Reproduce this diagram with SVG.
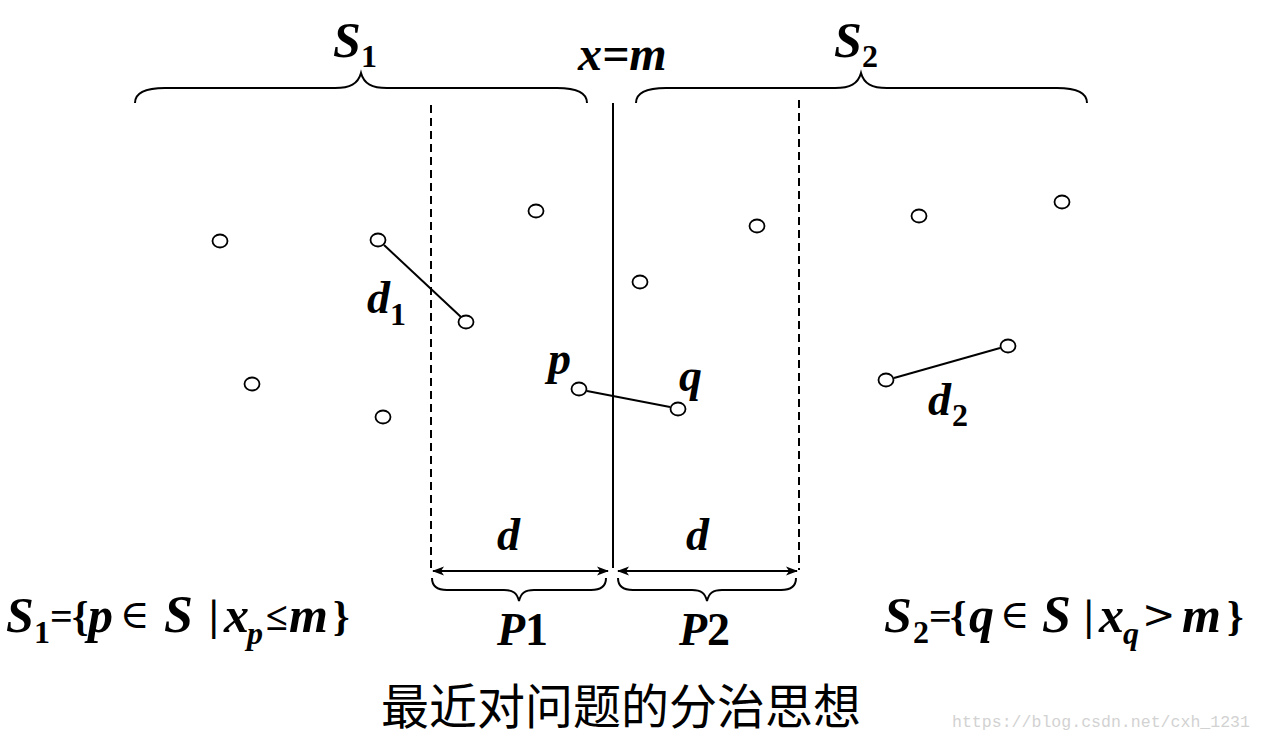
<svg xmlns="http://www.w3.org/2000/svg" width="1262" height="741" viewBox="0 0 1262 741">
<defs>
<style>
.pt{fill:#fff;stroke:#000;stroke-width:1.8}
.ln{stroke:#000;stroke-width:2;fill:none}
.dash{stroke:#000;stroke-width:2;stroke-dasharray:8 5;fill:none}
.br{stroke:#000;stroke-width:2;fill:none}
.m{font-family:"Liberation Serif","Times New Roman",serif;font-weight:bold;font-style:italic;fill:#000}
.up{font-family:"Liberation Serif","Times New Roman",serif;font-weight:bold;font-style:normal;fill:#000}
.sym{font-family:"DejaVu Serif","Liberation Serif",serif;font-weight:normal;font-style:normal;fill:#000}
.cn{font-family:"Noto Sans CJK SC","Noto Sans",sans-serif;fill:#000}
.wm{font-family:"Liberation Mono","DejaVu Sans Mono",monospace;fill:#d2d2d2}
</style>
<marker id="ah" viewBox="0 0 12 10" refX="11" refY="5" markerWidth="12" markerHeight="10" markerUnits="userSpaceOnUse" orient="auto-start-reverse">
<path d="M0,0.5 L12,5 L0,9.5 L3,5 Z" fill="#000"/>
</marker>
</defs>
<rect width="1262" height="741" fill="#fff"/>

<g id="braces">
<path class="br" d="M135,103 C135,93 145,88 165,88 L335,88 C350,88 358,84 361,73 C364,84 372,88 387,88 L557,88 C577,88 587,93 587,103"/>
<path class="br" d="M636,103 C636,93 646,88 666,88 L835,88 C850,88 858,84 861,73 C864,84 872,88 887,88 L1057,88 C1077,88 1087,93 1087,103"/>
<path class="br" d="M432,578 C432,586 437,590 447,590 L504,590 C513,590 517,593 519,601 C521,593 525,590 534,590 L591,590 C601,590 606,586 606,578"/>
<path class="br" d="M618,578 C618,586 623,590 633,590 L692,590 C701,590 705,593 707,601 C709,593 713,590 722,590 L781,590 C791,590 796,586 796,578"/>
</g>

<g id="guides">
<line class="ln" x1="613" y1="103" x2="613" y2="568"/>
<line class="dash" x1="431" y1="105" x2="431" y2="570"/>
<line class="dash" x1="799" y1="100" x2="799" y2="570"/>
</g>

<g id="connectors">
<line class="ln" x1="384" y1="245" x2="461" y2="317"/>
<line class="ln" x1="587" y1="391" x2="670" y2="407"/>
<line class="ln" x1="894" y1="378" x2="1000" y2="348"/>
<line class="ln" x1="433" y1="571" x2="608" y2="571" marker-start="url(#ah)" marker-end="url(#ah)"/>
<line class="ln" x1="618" y1="571" x2="797" y2="571" marker-start="url(#ah)" marker-end="url(#ah)"/>
</g>

<g id="nodes">
<ellipse id="n1" class="pt" cx="220" cy="241" rx="7.5" ry="6.5"/>
<ellipse id="n2" class="pt" cx="378" cy="240" rx="7.5" ry="6.5"/>
<ellipse id="n3" class="pt" cx="536" cy="211" rx="7.5" ry="6.5"/>
<ellipse id="n4" class="pt" cx="466" cy="322" rx="7.5" ry="6.5"/>
<ellipse id="n5" class="pt" cx="252" cy="384" rx="7.5" ry="6.5"/>
<ellipse id="n6" class="pt" cx="383" cy="417" rx="7.5" ry="6.5"/>
<ellipse id="np" class="pt" cx="579" cy="389" rx="7.5" ry="6.5"/>
<ellipse id="n7" class="pt" cx="640" cy="282" rx="7.5" ry="6.5"/>
<ellipse id="n8" class="pt" cx="757" cy="226" rx="7.5" ry="6.5"/>
<ellipse id="nq" class="pt" cx="678" cy="409" rx="7.5" ry="6.5"/>
<ellipse id="n9" class="pt" cx="919" cy="216" rx="7.5" ry="6.5"/>
<ellipse id="n10" class="pt" cx="1062" cy="202" rx="7.5" ry="6.5"/>
<ellipse id="n11" class="pt" cx="1008" cy="346" rx="7.5" ry="6.5"/>
<ellipse id="n12" class="pt" cx="886" cy="380" rx="7.5" ry="6.5"/>
</g>

<g id="labels">
<text class="m" x="333" y="57" font-size="50">S<tspan class="up" x="361" y="67" font-size="32">1</tspan></text>
<text class="m" x="578" y="70" font-size="48">x=m</text>
<text class="m" x="834" y="57" font-size="50">S<tspan class="up" x="862" y="67" font-size="32">2</tspan></text>
<text class="m" x="367" y="313" font-size="46">d<tspan class="up" x="390" y="325" font-size="32">1</tspan></text>
<text class="m" x="548" y="374" font-size="46">p</text>
<text class="m" x="679" y="391" font-size="46">q</text>
<text class="m" x="928" y="415" font-size="46">d<tspan class="up" x="952" y="426" font-size="32">2</tspan></text>
<text class="m" x="497" y="550" font-size="46">d</text>
<text class="m" x="686" y="550" font-size="46">d</text>
<text class="m" x="497" y="645" font-size="46">P<tspan class="up">1</tspan></text>
<text class="m" x="679" y="645" font-size="46">P<tspan class="up">2</tspan></text>
</g>

<g id="formula-s1">
<text class="m" x="6" y="632" font-size="50">S</text>
<text class="up" x="34" y="643" font-size="32">1</text>
<text class="up" x="50" y="630" font-size="40">=</text>
<text class="up" x="72" y="630" font-size="42">{</text>
<text class="m" x="88" y="632" font-size="50">p</text>
<text class="sym" x="120" y="628" font-size="40">∈</text>
<text class="m" x="164" y="632" font-size="52">S</text>
<text class="sym" x="207" y="630" font-size="40">|</text>
<text class="m" x="224" y="632" font-size="50">x</text>
<text class="m" x="247" y="644" font-size="32">p</text>
<text class="up" x="266" y="630" font-size="40">≤</text>
<text class="m" x="289" y="632" font-size="50">m</text>
<text class="up" x="333" y="630" font-size="42">}</text>
</g>

<g id="formula-s2">
<text class="m" x="884" y="632" font-size="50">S</text>
<text class="up" x="913" y="643" font-size="32">2</text>
<text class="up" x="929" y="630" font-size="40">=</text>
<text class="up" x="950" y="630" font-size="42">{</text>
<text class="m" x="969" y="632" font-size="50">q</text>
<text class="sym" x="1000" y="628" font-size="40">∈</text>
<text class="m" x="1042" y="632" font-size="52">S</text>
<text class="sym" x="1082" y="630" font-size="40">|</text>
<text class="m" x="1099" y="632" font-size="50">x</text>
<text class="m" x="1123" y="644" font-size="32">q</text>
<text class="sym" x="1142" y="628" font-size="40">&gt;</text>
<text class="m" x="1182" y="632" font-size="50">m</text>
<text class="up" x="1227" y="630" font-size="42">}</text>
</g>

<g id="caption">
<text class="cn" x="381" y="724" font-size="48">最近对问题的分治思想</text>
<text class="wm" x="952" y="727" font-size="17" textLength="298" lengthAdjust="spacingAndGlyphs">https://blog.csdn.net/cxh_1231</text>
</g>
</svg>
